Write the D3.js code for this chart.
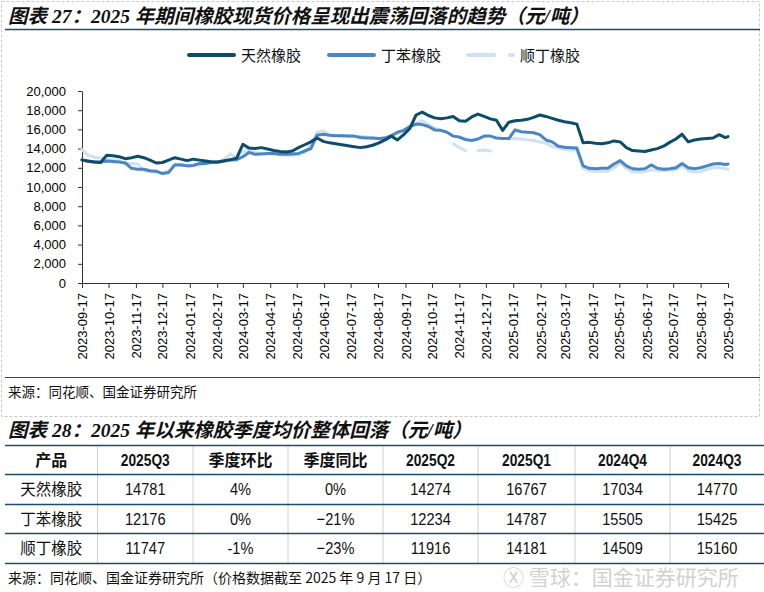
<!DOCTYPE html>
<html>
<head>
<meta charset="utf-8">
<script src="https://cdn.jsdelivr.net/npm/d3@7"></script>
<style>
body { margin: 0; background: #fff; }
svg { display: block; }
</style>
</head>
<body>
<script>
// weekly readings
var dates = [
  "2023-09-17","2023-09-24","2023-10-01","2023-10-08","2023-10-15","2023-10-22","2023-10-29","2023-11-05","2023-11-12","2023-11-19",
  "2023-11-26","2023-12-03","2023-12-10","2023-12-17","2023-12-24","2023-12-31","2024-01-07","2024-01-14","2024-01-21","2024-01-28",
  "2024-02-04","2024-02-11","2024-02-18","2024-02-25","2024-03-03","2024-03-10","2024-03-17","2024-03-24","2024-03-31","2024-04-07",
  "2024-04-14","2024-04-21","2024-04-28","2024-05-05","2024-05-12","2024-05-19","2024-05-26","2024-06-02","2024-06-09","2024-06-16",
  "2024-06-23","2024-06-30","2024-07-07","2024-07-14","2024-07-21","2024-07-28","2024-08-04","2024-08-11","2024-08-18","2024-08-25",
  "2024-09-01","2024-09-08","2024-09-15","2024-09-22","2024-09-29","2024-10-06","2024-10-13","2024-10-20","2024-10-27","2024-11-03",
  "2024-11-10","2024-11-17","2024-11-24","2024-12-01","2024-12-08","2024-12-15","2024-12-22","2024-12-29","2025-01-05","2025-01-12",
  "2025-01-19","2025-01-26","2025-02-02","2025-02-09","2025-02-16","2025-02-23","2025-03-02","2025-03-09","2025-03-16","2025-03-23",
  "2025-03-30","2025-04-06","2025-04-13","2025-04-20","2025-04-27","2025-05-04","2025-05-11","2025-05-18","2025-05-25","2025-06-01",
  "2025-06-08","2025-06-15","2025-06-22","2025-06-29","2025-07-06","2025-07-13","2025-07-20","2025-07-27","2025-08-03","2025-08-10",
  "2025-08-17","2025-08-24","2025-08-31","2025-09-07","2025-09-14","2025-09-17"
];

// 天然橡胶
var natural = [
  12800,12700,12600,12550,13300,13250,13150,12950,13050,13200,
  13050,12800,12500,12550,12800,13050,12900,12750,12900,12800,
  12700,12600,12600,12700,12850,13000,14450,14050,14000,14100,
  13950,13800,13700,13650,13750,14100,14400,14700,15100,14750,
  14600,14500,14400,14300,14200,14100,14200,14350,14600,14900,
  15300,14900,15450,16100,17500,17800,17450,17200,17100,17200,
  17350,16900,16850,17300,17600,17350,17100,16950,15900,16750,
  16900,16950,17050,17250,17500,17350,17150,16950,16800,16700,
  16550,14600,14650,14550,14500,14600,14800,14700,14100,13800,
  13750,13700,13850,14000,14250,14650,15000,15500,14700,14900,
  15000,15050,15100,15450,15150,15250
];

// 丁苯橡胶
var sbr = [
  12850,12650,12600,12600,12700,12650,12600,12500,11950,11850,
  11850,11700,11650,11400,11500,12300,12300,12200,12250,12450,
  12450,12600,12600,12750,12800,12850,13150,13600,13400,13450,
  13500,13500,13400,13400,13450,13500,13750,14000,15400,15500,
  15400,15350,15350,15300,15300,15150,15100,15100,15050,15100,
  15350,15700,15900,16300,16550,16500,16300,15950,15900,15700,
  15300,15200,14950,14850,15000,15300,15300,15100,15050,15050,
  15950,15750,15700,15650,15450,14900,14700,14250,14150,14100,
  14050,12200,11950,11900,11950,11950,12400,12750,12200,11900,
  11850,11900,12300,11950,11850,11900,12000,12450,12000,11900,
  12000,12200,12400,12450,12350,12400
];

// 顺丁橡胶 (null = no quote)
var br = [
  13900,13300,13100,13050,12900,12850,12700,12500,12450,12400,
  11700,11600,11550,11450,11700,12400,12350,12250,12250,12300,
  12450,12500,12600,12900,13450,13000,13700,13800,13600,13550,
  13500,13450,13350,13300,13300,13350,13650,14400,15700,15850,
  15450,15400,15350,15300,15250,15250,15200,15050,15000,15150,
  15300,15600,15900,16200,16600,16900,16500,16150,15900,null,
  14500,14100,13800,null,13800,13850,13750,null,null,15000,
  15050,15000,14900,14850,14700,14550,14200,14100,13900,13850,
  13850,11950,11700,11650,11650,11650,12000,12500,11900,11600,
  11550,11600,11800,11750,11700,11750,11800,12250,11700,11550,
  11600,11850,12000,12000,11900,11850
];

var xTickLabels = [
  "2023-09-17","2023-10-17","2023-11-17","2023-12-17","2024-01-17","2024-02-17","2024-03-17",
  "2024-04-17","2024-05-17","2024-06-17","2024-07-17","2024-08-17","2024-09-17","2024-10-17",
  "2024-11-17","2024-12-17","2025-01-17","2025-02-17","2025-03-17","2025-04-17","2025-05-17",
  "2025-06-17","2025-07-17","2025-08-17","2025-09-17"
];
var yTicks = [0,2000,4000,6000,8000,10000,12000,14000,16000,18000,20000];

var seriesNames = ["天然橡胶","丁苯橡胶","顺丁橡胶"];
var seriesColors = ["#0e4c6c","#4a86c4","#cfe1f3"];

// table 28
var tableHeader = ["产品","2025Q3","季度环比","季度同比","2025Q2","2025Q1","2024Q4","2024Q3"];
var q3_2025 = ["14781","12176","11747"];
var qoq = ["4%","0%","-1%"];
var yoy = ["0%","\u221221%","\u221223%"];
var q2_2025 = ["14274","12234","11916"];
var q1_2025 = ["16767","14787","14181"];
var q4_2024 = ["17034","15505","14509"];
var q3_2024 = ["14770","15425","15160"];

var navy = '#1d4b69';
var cjk = '"Noto Sans CJK SC", sans-serif';
var titleFont = '"Liberation Serif", "Noto Sans CJK SC", serif';
var numFont = '"Liberation Sans", Arial, sans-serif';

var svg = d3.select('body').append('svg')
    .attr('width', 764)
    .attr('height', 592);

// chart panel frame
svg.append('rect')
    .attr('x', 1.5).attr('y', 1.5)
    .attr('width', 758).attr('height', 415)
    .attr('fill', 'none')
    .attr('stroke', '#c9c9c9')
    .attr('stroke-dasharray', '3,2');

svg.append('text')
    .attr('x', 8).attr('y', 23)
    .style('font-family', titleFont)
    .style('font-size', '19.5px')
    .style('font-weight', 'bold')
    .style('font-style', 'italic')
    .attr('fill', '#111')
    .text('图表 27：2025 年期间橡胶现货价格呈现出震荡回落的趋势（元/吨）');

svg.append('line')
    .attr('x1', 5).attr('x2', 760)
    .attr('y1', 29.5).attr('y2', 29.5)
    .attr('stroke', navy).attr('stroke-width', 1.5);

// legend
var legendX = [187, 327, 466];
var legend = svg.append('g');
seriesNames.forEach(function(name, i) {
    legend.append('line')
        .attr('x1', legendX[i] + 2).attr('x2', legendX[i] + 47)
        .attr('y1', 55).attr('y2', 55)
        .attr('stroke', seriesColors[i])
        .attr('stroke-width', 4)
        .attr('stroke-linecap', 'round')
        .attr('stroke-dasharray', i == 2 ? '26,16,4,100' : null);
    legend.append('text')
        .attr('x', legendX[i] + 54).attr('y', 60.5)
        .style('font-family', cjk)
        .style('font-size', '15px')
        .attr('fill', '#111')
        .text(name);
});

var parse = d3.timeParse('%Y-%m-%d');

var x = d3.scaleTime()
    .domain([parse(xTickLabels[0]), parse(xTickLabels[xTickLabels.length - 1])])
    .range([82, 728]);

var y = d3.scaleLinear()
    .domain([0, 20000])
    .range([283, 91]);

var yAxis = svg.append('g')
    .attr('transform', 'translate(82,0)')
    .call(d3.axisLeft(y).tickValues(yTicks).tickSize(4).tickSizeOuter(0).tickPadding(12).tickFormat(d3.format(',')));

var xAxis = svg.append('g')
    .attr('transform', 'translate(0,283)')
    .call(d3.axisBottom(x).tickValues(xTickLabels.map(parse)).tickSize(5).tickSizeOuter(0).tickFormat(d3.timeFormat('%Y-%m-%d')));

xAxis.selectAll('text')
    .attr('transform', 'rotate(-90)')
    .attr('x', -10).attr('y', 0)
    .attr('dy', '0.35em')
    .style('text-anchor', 'end');

[xAxis, yAxis].forEach(function(g) {
    g.selectAll('path,line').attr('stroke', '#333');
    g.selectAll('text')
        .attr('fill', '#000')
        .style('font-family', '"Liberation Sans", Arial, sans-serif')
        .style('font-size', '13px');
});

// series, light one underneath
var allSeries = [natural, sbr, br];
var line = d3.line()
    .defined(function(d) { return d.v != null; })
    .x(function(d) { return x(d.date); })
    .y(function(d) { return y(d.v); });

[2, 1, 0].forEach(function(i) {
    var pts = dates.map(function(s, j) { return { date: parse(s), v: allSeries[i][j] }; });
    svg.append('path')
        .datum(pts)
        .attr('d', line)
        .attr('fill', 'none')
        .attr('stroke', seriesColors[i])
        .attr('stroke-width', 3)
        .attr('stroke-linejoin', 'round')
        .attr('stroke-linecap', 'round');
});

svg.append('line')
    .attr('x1', 5).attr('x2', 760)
    .attr('y1', 377.5).attr('y2', 377.5)
    .attr('stroke', navy).attr('stroke-width', 1.2);

svg.append('text')
    .attr('x', 8).attr('y', 397)
    .style('font-family', cjk)
    .style('font-size', '13.5px')
    .attr('fill', '#111')
    .text('来源：同花顺、国金证券研究所');

// ---- table 28 ----
svg.append('text')
    .attr('x', 8).attr('y', 437)
    .style('font-family', titleFont)
    .style('font-size', '19.5px')
    .style('font-weight', 'bold')
    .style('font-style', 'italic')
    .attr('fill', '#111')
    .text('图表 28：2025 年以来橡胶季度均价整体回落（元/吨）');

var colEdges = [5, 97.5, 193, 288, 383, 478, 575, 670, 764];
var rowEdges = [445, 474, 504, 533, 563];
var columns = [seriesNames, q3_2025, qoq, yoy, q2_2025, q1_2025, q4_2024, q3_2024];

var table = svg.append('g');

table.selectAll('line.col')
    .data(colEdges.slice(1, -1))
    .enter().append('line')
    .attr('x1', function(d) { return d; }).attr('x2', function(d) { return d; })
    .attr('y1', rowEdges[0]).attr('y2', rowEdges[rowEdges.length - 1])
    .attr('stroke', '#d0d0d0').attr('stroke-width', 1);

table.selectAll('line.row')
    .data(rowEdges)
    .enter().append('line')
    .attr('x1', colEdges[0]).attr('x2', colEdges[colEdges.length - 1])
    .attr('y1', function(d) { return d + 0.5; }).attr('y2', function(d) { return d + 0.5; })
    .attr('stroke', navy).attr('stroke-width', 1.5);

// condensed look for the numbers: squeeze horizontally
function cellText(txt, cx, cy, isNum, size, bold) {
    var t = table.append('text')
        .attr('text-anchor', 'middle')
        .style('font-family', isNum ? numFont : cjk)
        .style('font-size', size)
        .style('font-weight', bold ? 'bold' : 'normal')
        .attr('fill', '#111')
        .text(txt);
    if (isNum) t.attr('transform', 'translate(' + cx + ',' + cy + ') scale(0.86,1)');
    else t.attr('x', cx).attr('y', cy);
}

tableHeader.forEach(function(h, c) {
    cellText(h, (colEdges[c] + colEdges[c + 1]) / 2, (rowEdges[0] + rowEdges[1]) / 2 + 6,
        /[0-9]/.test(h), '16px', true);
});

columns.forEach(function(col, c) {
    col.forEach(function(v, r) {
        cellText(v, (colEdges[c] + colEdges[c + 1]) / 2, (rowEdges[r + 1] + rowEdges[r + 2]) / 2 + 6,
            c != 0, c == 0 ? '15.5px' : '17px', false);
    });
});

svg.append('text')
    .attr('x', 8).attr('y', 583)
    .style('font-family', cjk)
    .style('font-size', '14px')
    .attr('fill', '#111')
    .text('来源：同花顺、国金证券研究所（价格数据截至 2025 年 9 月 17 日）');

// watermark
svg.append('text')
    .attr('x', 503).attr('y', 585)
    .style('font-family', cjk)
    .style('font-size', '21px')
    .attr('fill', '#9a9a9a')
    .attr('opacity', 0.45)
    .text('\u24CD 雪球：国金证券研究所');
</script>
</body>
</html>
